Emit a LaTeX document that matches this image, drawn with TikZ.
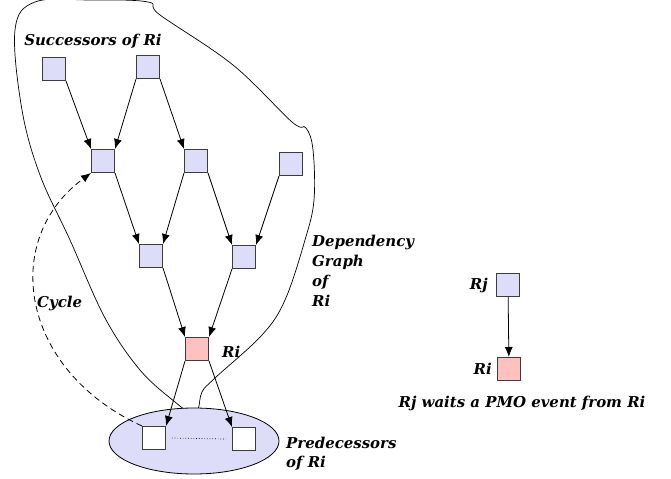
\documentclass[tikz,border=0pt]{standalone}
\usepackage{fontspec}
\setmainfont{DejaVu Serif}
\usepackage{xcolor}
\usetikzlibrary{shapes.geometric}
\usetikzlibrary{arrows.meta}
\usetikzlibrary{calc}
\definecolor{lavender}{RGB}{221,221,250}
\definecolor{pinkbox}{RGB}{255,192,192}
\definecolor{boxline}{RGB}{60,60,60}
\tikzset{
  task/.style={draw=boxline,fill=lavender,minimum size=23bp,inner sep=0pt,line width=1bp},
  label/.style={font=\fontsize{15}{20}\selectfont\bfseries\itshape,inner sep=0pt},
  dep/.style={-{Latex[length=10bp,width=8bp]},line width=0.8bp}
}
\begin{document}
\begin{tikzpicture}[x=1bp,y=-1bp]
    \useasboundingbox (0,0) rectangle (671,479);
    % outline of the dependency graph
    \draw [line width=0.7bp] plot [smooth cycle,tension=0.6] coordinates {
      (15,30) (35,2) (90,0) (148,2) (160,15) (233,65) (292,122) (306,128)
      (313,150) (314,200) (305,240) (285,300) (262,335) (215,378) (202,392)
      (198,409) (190,412) (175,402) (140,370) (105,318) (70,240) (40,175) (22,110)};
    \path (194,441) node [ellipse,draw,fill=lavender,line width=0.8bp,minimum width=170bp,minimum height=66bp] (pred) {};

    \path (54,69) node [task] (a1) {};
    \path (148,67) node [task] (a2) {};
    \path (103,161) node [task] (b1) {};
    \path (196,161) node [task] (b2) {};
    \path (291,164) node [task] (b3) {};
    \path (151,256) node [task] (c1) {};
    \path (244,257) node [task] (c2) {};
    \path (197,349) node [task,fill=pinkbox] (ri) {};
    \path (154,438) node [task,fill=white] (p1) {};
    \path (244,439) node [task,fill=white] (p2) {};
    \draw [dotted,line width=0.7bp] ($(p1.east)+(6,0)$) -- ($(p2.west)+(-6,0)$);

    \draw [dep] (a1.south east) -- (b1.north west);
    \draw [dep] (a2.south west) -- (b1.north east);
    \draw [dep] (a2.south east) -- (b2.north west);
    \draw [dep] (b1.south east) -- (c1.north west);
    \draw [dep] (b2.south west) -- (c1.north east);
    \draw [dep] (b2.south east) -- (c2.north west);
    \draw [dep] (b3.south west) -- (c2.north east);
    \draw [dep] (c1.south east) -- (ri.north west);
    \draw [dep] (c2.south west) -- (ri.north east);
    \draw [dep] (ri.south west) -- (p1.north east);
    \draw [dep] (ri.south east) -- (p2.north west);
    \draw [dep,dashed,dash pattern=on 6bp off 4bp] (p1.north west) .. controls (20,370) and (0,240) .. (b1.south west);

    \path (93,41) node [label] (succ) {Successors of Ri};
    \path (222,352) node [label,anchor=west] (rilab) {Ri};
    \path (37,303) node [label,anchor=west] (cyc) {Cycle};
    \path (312,235) node [label,anchor=north west,align=left] (dg) {Dependency\\Graph\\of\\Ri};
    \path (286,448) node [label,anchor=base west] (pl1) {Predecessors};
    \path (286,467) node [label,anchor=base west] (pl2) {of Ri};

    % legend
    \path (508,285) node [task] (rj) {};
    \path (509,369) node [task,fill=pinkbox] (ri2) {};
    \draw [dep] (rj) -- (ri2);
    \path (rj.west) node [label,anchor=east,xshift=-8bp] (rjlab) {Rj};
    \path (ri2.west) node [label,anchor=east,xshift=-5bp] (ri2lab) {Ri};
    \path (522,403) node [label] (cap) {Rj waits a PMO event from Ri};
\end{tikzpicture}
\end{document}
